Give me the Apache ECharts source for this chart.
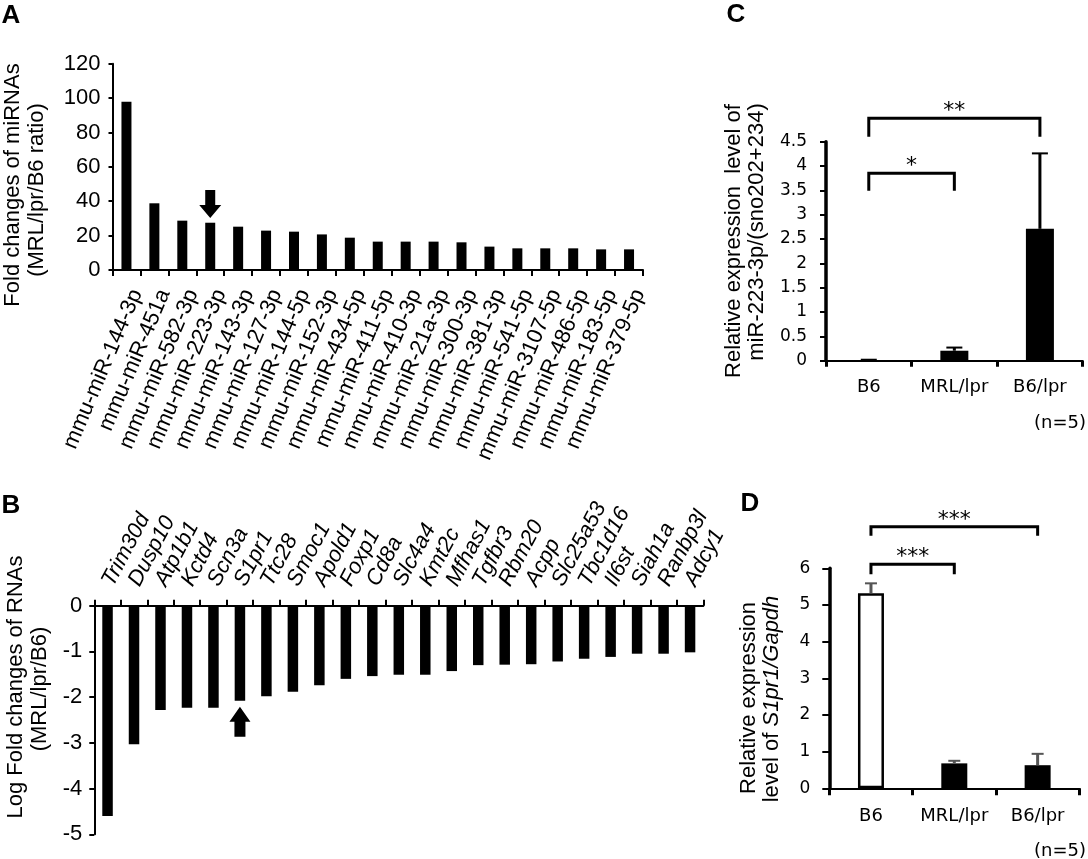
<!DOCTYPE html>
<html>
<head>
<meta charset="utf-8">
<title>miR-223 / S1pr1</title>
<script src="https://cdn.jsdelivr.net/npm/echarts@6/dist/echarts.min.js"></script>
<style>
  html, body { margin: 0; padding: 0; background: #fff; }
  #main { width: 1088px; height: 859px; }
</style>
</head>
<body>
<div id="main"></div>
<script>
// A: miRNA fold changes (MRL/lpr / B6)
var mirNames = ['mmu-miR-144-3p', 'mmu-miR-451a', 'mmu-miR-582-3p', 'mmu-miR-223-3p', 'mmu-miR-143-3p',
  'mmu-miR-127-3p', 'mmu-miR-144-5p', 'mmu-miR-152-3p', 'mmu-miR-434-5p', 'mmu-miR-411-5p',
  'mmu-miR-410-3p', 'mmu-miR-21a-3p', 'mmu-miR-300-3p', 'mmu-miR-381-3p', 'mmu-miR-541-5p',
  'mmu-miR-3107-5p', 'mmu-miR-486-5p', 'mmu-miR-183-5p', 'mmu-miR-379-5p'];
var mirFold = [97.8, 38.8, 28.7, 27.5, 25.2, 22.9, 22.3, 20.7, 18.8, 16.5,
  16.5, 16.5, 16.1, 13.6, 12.6, 12.6, 12.6, 12.0, 12.0];
var mirTicks = [0, 20, 40, 60, 80, 100, 120];
var mirArrow = ['mmu-miR-223-3p', 38.4];

// B: log fold changes of RNAs
var geneNames = ['Trim30d', 'Dusp10', 'Atp1b1', 'Kctd4', 'Scn3a', 'S1pr1', 'Ttc28', 'Smoc1', 'Apold1',
  'Foxp1', 'Cd8a', 'Slc4a4', 'Kmt2c', 'Mfhas1', 'Tgfbr3', 'Rbm20', 'Acpp', 'Slc25a53', 'Tbc1d16',
  'Il6st', 'Siah1a', 'Ranbp3l', 'Adcy1'];
var geneLogFold = [-4.60, -3.03, -2.28, -2.23, -2.23, -2.08, -1.98, -1.88, -1.74, -1.60, -1.54, -1.51,
  -1.51, -1.43, -1.30, -1.29, -1.28, -1.22, -1.16, -1.12, -1.05, -1.05, -1.02];
var geneTicks = [-5, -4, -3, -2, -1, 0];
var geneArrow = ['S1pr1', -2.54];

// C / D: qPCR, three groups (n=5)
var groups = ['B6', 'MRL/lpr', 'B6/lpr'];
var mir223Mean = [0.01, 0.205, 2.71];
var mir223ErrTop = [0.02, 0.27, 4.26];
// [from, to, bracket level, leg end, stars]
var mir223Sig = [[0, 1, 3.85, 3.49, '*'], [0, 2, 4.98, 4.60, '**']];
var s1pr1Mean = [5.32, 0.68, 0.63];
var s1pr1ErrTop = [5.59, 0.75, 0.94];
var s1pr1Sig = [[0, 1, 6.11, 5.84, '***'], [0, 2, 7.13, 6.89, '***']];

var FONT = '"Liberation Sans", Arial, sans-serif';
var WIDE = '"DejaVu Sans", sans-serif';

var myChart = echarts.init(document.getElementById('main'), null, { renderer: 'canvas' });

function errData(mean, top) {
  return mean.map(function (v, i) { return [i, v, top[i]]; });
}

// 误差线 (只画上半部分)
function errRenderer(color, cap) {
  return function (params, api) {
    var base = api.coord([api.value(0), api.value(1)]);
    var top = api.coord([api.value(0), api.value(2)]);
    return {
      type: 'group',
      children: [
        { type: 'line', shape: { x1: base[0], y1: base[1], x2: top[0], y2: top[1] }, style: { stroke: color, lineWidth: 3 } },
        { type: 'line', shape: { x1: top[0] - cap / 2, y1: top[1], x2: top[0] + cap / 2, y2: top[1] }, style: { stroke: color, lineWidth: 2 } }
      ]
    };
  };
}

// 显著性括号
function sigRenderer(params, api) {
  var a = api.coord([api.value(0), api.value(2)]);
  var b = api.coord([api.value(1), api.value(2)]);
  var la = api.coord([api.value(0), api.value(3)]);
  var lb = api.coord([api.value(1), api.value(3)]);
  return {
    type: 'group',
    children: [
      {
        type: 'polyline',
        shape: { points: [[la[0], la[1]], [a[0], a[1]], [b[0], b[1]], [lb[0], lb[1]]] },
        style: { stroke: '#000', lineWidth: 3, fill: null }
      },
      {
        type: 'text',
        x: (a[0] + b[0]) / 2, y: a[1] - 7,
        style: {
          text: api.value(4), font: '22px ' + WIDE, fill: '#000',
          textAlign: 'center', textVerticalAlign: 'middle', align: 'center', verticalAlign: 'middle'
        }
      }
    ]
  };
}

function vtext(x, y, text, extra) {
  var s = {
    text: text, font: '22px ' + FONT, fill: '#000',
    textAlign: 'center', textVerticalAlign: 'middle', align: 'center', verticalAlign: 'middle'
  };
  if (extra) { for (var k in extra) s[k] = extra[k]; }
  return { type: 'text', x: x, y: y, rotation: Math.PI / 2, style: s };
}

function htext(x, y, text, font) {
  return {
    type: 'text', x: x, y: y,
    style: {
      text: text, font: font, fill: '#000',
      textAlign: 'center', textVerticalAlign: 'middle', align: 'center', verticalAlign: 'middle'
    }
  };
}

function line(w) { return { show: true, lineStyle: { color: '#000', width: w } }; }
function tick(len, w) { return { show: true, interval: 0, length: len, lineStyle: { color: '#000', width: w } }; }
var labA = { color: '#000', fontSize: 22, fontFamily: FONT };
var labC = { color: '#000', fontSize: 17, fontFamily: WIDE };
var labCx = { color: '#000', fontSize: 18, fontFamily: WIDE };

var option = {
  animation: false,
  backgroundColor: '#fff',
  grid: [
    { left: 112.5, top: 63.7, width: 530.5, height: 206.3, outerBoundsMode: 'none', containLabel: false },
    { left: 94.3, top: 605.7, width: 609, height: 228.6, outerBoundsMode: 'none', containLabel: false },
    { left: 826, top: 141.7, width: 256.7, height: 219, outerBoundsMode: 'none', containLabel: false },
    { left: 829.3, top: 568.3, width: 250, height: 220, outerBoundsMode: 'none', containLabel: false }
  ],
  xAxis: [
    {
      gridIndex: 0, type: 'category', data: mirNames,
      axisLine: line(2), axisTick: tick(6, 2),
      axisLabel: Object.assign({ interval: 0, rotate: 67, margin: 16, verticalAlign: 'top' }, labA)
    },
    {
      gridIndex: 1, type: 'category', data: geneNames, position: 'top',
      axisLine: line(2), axisTick: tick(6, 2),
      axisLabel: Object.assign({ interval: 0, rotate: 62, margin: 21, fontStyle: 'italic' }, labA)
    },
    {
      gridIndex: 2, type: 'category', data: groups,
      axisLine: line(2), axisTick: tick(6, 3),
      axisLabel: Object.assign({ interval: 0, margin: 18 }, labCx)
    },
    {
      gridIndex: 3, type: 'category', data: groups,
      axisLine: line(2), axisTick: tick(7, 3),
      axisLabel: Object.assign({ interval: 0, margin: 19 }, labCx)
    }
  ],
  yAxis: [
    {
      gridIndex: 0, type: 'value', min: mirTicks[0], max: mirTicks[mirTicks.length - 1], interval: 20,
      axisLine: line(2), splitLine: { show: false }, axisTick: tick(4, 2),
      axisLabel: Object.assign({ margin: 12 }, labA)
    },
    {
      gridIndex: 1, type: 'value', min: geneTicks[0], max: geneTicks[geneTicks.length - 1], interval: 1,
      axisLine: line(2), splitLine: { show: false }, axisTick: tick(5, 2),
      axisLabel: Object.assign({ margin: 12 }, labA)
    },
    {
      gridIndex: 2, type: 'value', min: 0, max: 4.5, interval: 0.5,
      axisLine: line(3.5), splitLine: { show: false }, axisTick: tick(6, 2),
      axisLabel: Object.assign({ margin: 19 }, labC)
    },
    {
      gridIndex: 3, type: 'value', min: 0, max: 6, interval: 1,
      axisLine: line(3.5), splitLine: { show: false }, axisTick: tick(7, 2),
      axisLabel: Object.assign({ margin: 19 }, labC)
    }
  ],
  series: [
    {
      type: 'bar', xAxisIndex: 0, yAxisIndex: 0, data: mirFold, barWidth: 10,
      itemStyle: { color: '#000' },
      markPoint: {
        label: { show: false },
        itemStyle: { color: '#000' },
        data: [{ coord: mirArrow, symbol: 'path://M6,0 L16,0 L16,15 L22,15 L11,28 L0,15 L6,15 Z', symbolSize: [22, 28] }]
      }
    },
    {
      type: 'bar', xAxisIndex: 1, yAxisIndex: 1, data: geneLogFold, barWidth: 10.5,
      itemStyle: { color: '#000' },
      markPoint: {
        label: { show: false },
        itemStyle: { color: '#000' },
        data: [{ coord: geneArrow, symbol: 'path://M10.5,0 L21,15 L16,15 L16,30 L5,30 L5,15 L0,15 Z', symbolSize: [21, 30] }]
      }
    },
    {
      type: 'bar', xAxisIndex: 2, yAxisIndex: 2, data: mir223Mean, barWidth: 28,
      itemStyle: { color: '#000' }
    },
    {
      type: 'custom', xAxisIndex: 2, yAxisIndex: 2, data: errData(mir223Mean, mir223ErrTop),
      encode: { x: 0, y: 2 }, renderItem: errRenderer('#000', 16), z: 3
    },
    {
      type: 'custom', xAxisIndex: 2, yAxisIndex: 2, data: mir223Sig,
      encode: { x: 0, y: 2 }, renderItem: sigRenderer, clip: false
    },
    {
      type: 'bar', xAxisIndex: 3, yAxisIndex: 3, barWidth: 26,
      data: s1pr1Mean.map(function (v, i) {
        return i === 0
          ? { value: v, itemStyle: { color: '#fff', borderColor: '#000', borderWidth: 2.5 } }
          : { value: v, itemStyle: { color: '#000' } };
      })
    },
    {
      type: 'custom', xAxisIndex: 3, yAxisIndex: 3, data: errData(s1pr1Mean, s1pr1ErrTop),
      encode: { x: 0, y: 2 }, renderItem: errRenderer('#555', 12), z: 3
    },
    {
      type: 'custom', xAxisIndex: 3, yAxisIndex: 3, data: s1pr1Sig,
      encode: { x: 0, y: 2 }, renderItem: sigRenderer, clip: false
    }
  ],
  graphic: [
    // 面板字母
    htext(11, 16, 'A', 'bold 26px ' + FONT),
    htext(11, 506, 'B', 'bold 26px ' + FONT),
    htext(736, 15, 'C', 'bold 26px ' + FONT),
    htext(750, 504, 'D', 'bold 26px ' + FONT),
    // 纵轴标题
    vtext(13, 185, 'Fold changes of miRNAs'),
    vtext(37, 190, '(MRL/lpr/B6 ratio)'),
    vtext(16, 687, 'Log Fold changes of RNAs'),
    vtext(40, 689, '(MRL/lpr/B6)'),
    vtext(734, 241, 'Relative expression  level of'),
    vtext(757, 232, 'miR-223-3p/(sno202+234)'),
    vtext(749, 698, 'Relative expression'),
    vtext(772, 699, 'level of {i|S1pr1/Gapdh}', { rich: { i: { fontStyle: 'italic', fontSize: 22, fontFamily: FONT } } }),
    // n
    htext(1060, 423, '(n=5)', '18px ' + WIDE),
    htext(1060, 851, '(n=5)', '18px ' + WIDE)
  ]
};

myChart.setOption(option);
</script>
</body>
</html>
